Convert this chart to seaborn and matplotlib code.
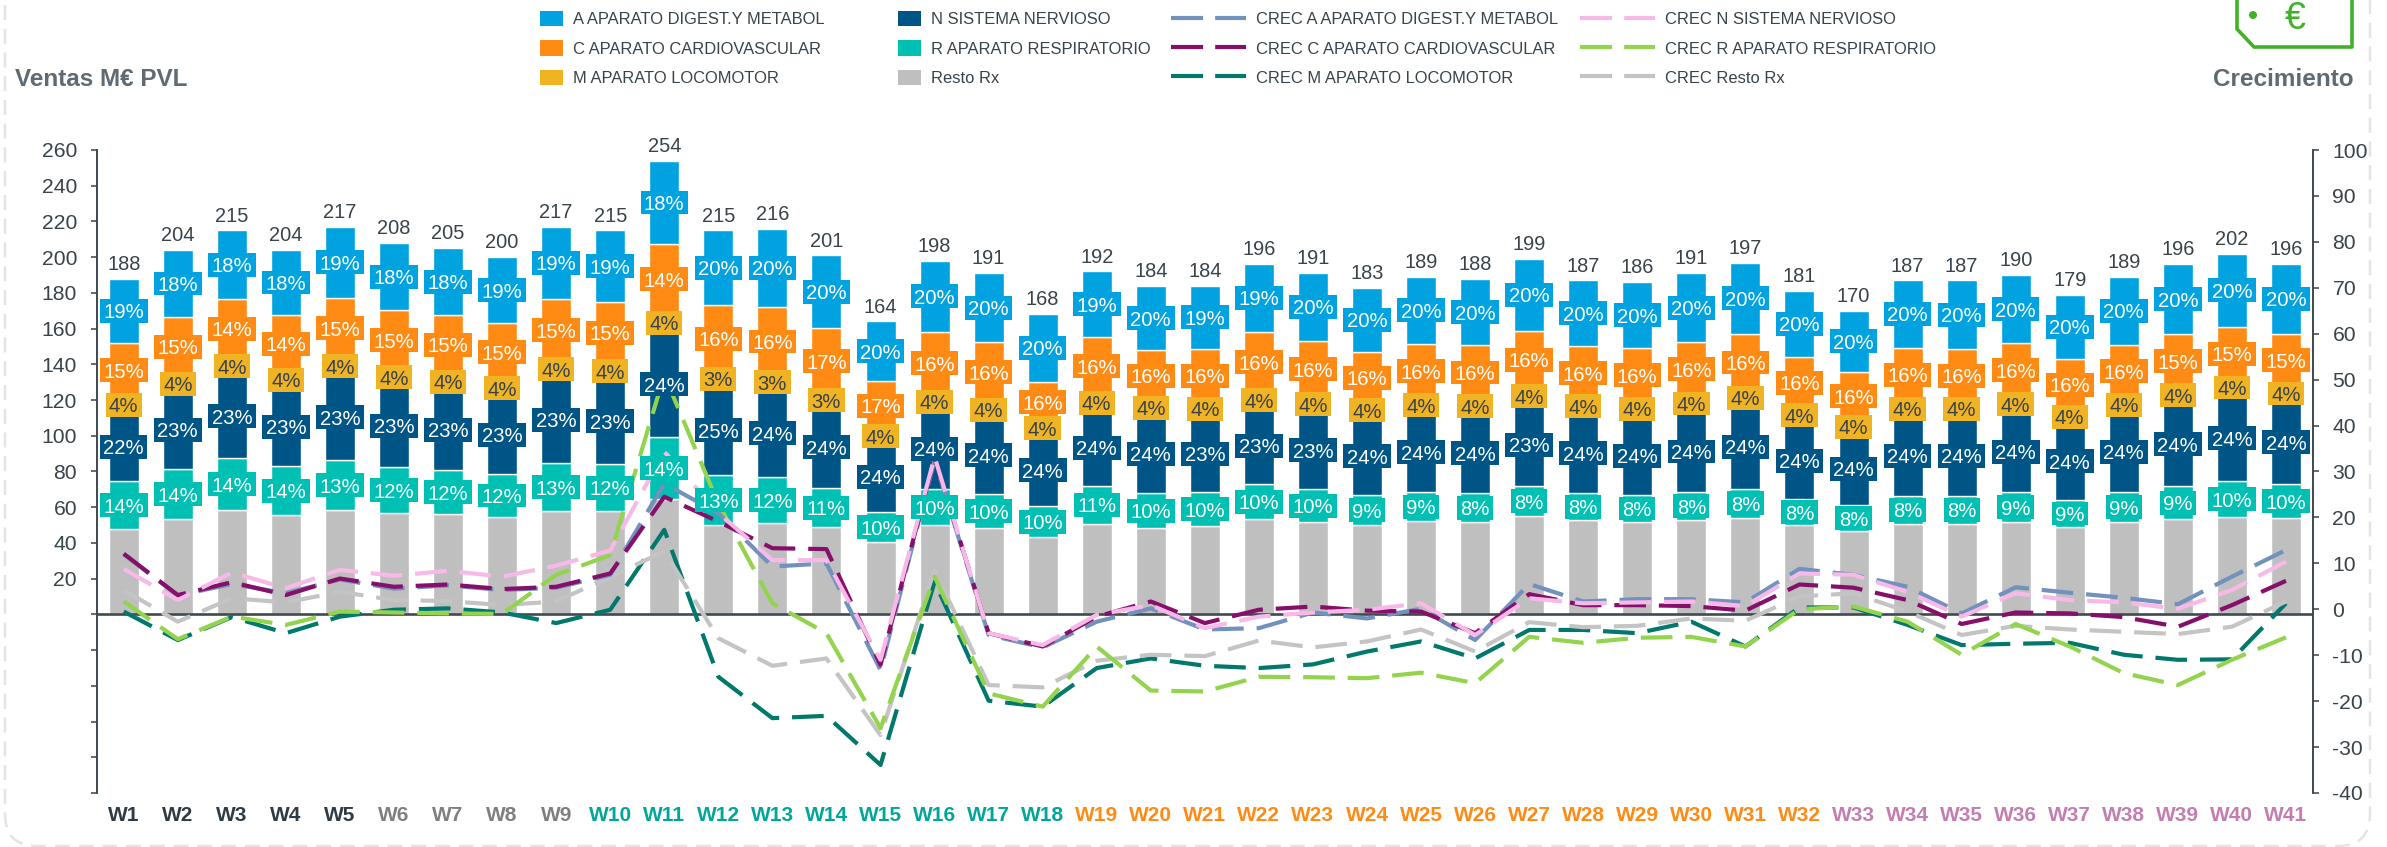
import numpy as np
import pandas as pd
import matplotlib
matplotlib.use("Agg")
import matplotlib.pyplot as plt
from matplotlib.lines import Line2D
from matplotlib.path import Path
from matplotlib.patches import Patch, Polygon, FancyBboxPatch, Circle
import seaborn as sns

weeks = [f"W{i}" for i in range(1, 42)]
totals = [188,204,215,204,217,208,205,200,217,215,254,215,216,201,164,198,191,168,192,184,184,196,191,183,189,188,199,187,186,191,197,181,170,187,187,190,179,189,196,202,196]

top_resto = [47.6,53.2,58.2,55.4,58.2,56.7,56.2,54.7,57.7,57.7,64.4,49.8,51.1,48.9,40.5,49.8,48.3,43.3,50.6,48.5,49.3,53.2,51.7,50,52.3,51.7,55,52.6,51.9,52.8,54,49.8,46.7,50.6,50.6,51.9,48.7,51.9,53.4,54.5,53.9]
top_r = [74.5,81.2,87.3,82.9,86.2,82.5,80.6,78.4,84.9,84,99.3,77.8,76.7,70.5,57.3,70,67.4,60.5,71.9,67.7,68.3,72.8,70,66.6,68.3,67.7,71.7,67.7,66.6,68.3,70.4,64.4,61,66.4,66.3,68.3,64.2,68.3,71.7,74.5,72.8]
top_n = [113.3,125.3,134.8,127,134.8,128.5,126.2,122.5,132.9,132,158.3,128.5,126.2,116.9,96.7,115.2,110.8,100.8,114.6,112,111.3,116,114,110.6,113.3,112.7,118,112.7,111.2,114.1,117.4,107.8,101.8,111.3,111.2,113.9,107.2,113.7,118.7,123,119.8]
top_m = [121.5,133,143,135.5,143,137,134.5,130.5,141.5,140.5,168,135.5,133.5,123,103,123,118.5,107.5,122.5,119.5,118.8,124,121.5,118,120.8,120.2,126,120.2,118.8,122,125.2,115,108.5,119,118.8,121.5,114.3,121.2,126.5,131,127.5]
top_c = [152.1,166.5,176.6,167.6,177.3,170.2,167.6,163,176.6,175,207.2,173,172,160.2,130.7,158.3,152.5,130.3,155.3,147.8,148.6,158.3,153.2,147,151.6,150.6,158.9,150,149,152.5,156.8,144.3,135.9,149.4,148.6,151.8,142.9,151,156.8,160.9,157.2]

pct_a = [19,18,18,18,19,18,18,19,19,19,18,20,20,20,20,20,20,20,19,20,19,19,20,20,20,20,20,20,20,20,20,20,20,20,20,20,20,20,20,20,20]
pct_c = [15,15,14,14,15,15,15,15,15,15,14,16,16,17,17,16,16,16,16,16,16,16,16,16,16,16,16,16,16,16,16,16,16,16,16,16,16,16,15,15,15]
pct_m = [4,4,4,4,4,4,4,4,4,4,4,3,3,3,4,4,4,4,4,4,4,4,4,4,4,4,4,4,4,4,4,4,4,4,4,4,4,4,4,4,4]
pct_n = [22,23,23,23,23,23,23,23,23,23,24,25,24,24,24,24,24,24,24,24,23,23,23,24,24,24,23,24,24,24,24,24,24,24,24,24,24,24,24,24,24]
pct_r = [14,14,14,14,13,12,12,12,13,12,14,13,12,11,10,10,10,10,11,10,10,10,10,9,9,8,8,8,8,8,8,8,8,8,8,9,9,9,9,10,10]

crec_a = [12,3,5.5,3.5,6.5,4.5,5.2,4.2,4.7,7.5,27.4,20.9,9.3,10,-13.2,32.5,-5.6,-8.3,-2.7,0.2,-4.4,-4.1,-0.7,-2,0.1,-6.7,5.5,1.7,2.2,2.2,1.5,8.8,7.5,4.9,-0.9,4.8,3.6,2.5,1.1,7.1,12.9]
crec_c = [12.1,3.1,5.9,3.1,6.7,4.9,5.4,4.4,4.9,7.8,24.5,19.1,13.3,13.1,-12.1,32.9,-5.2,-8.1,-1.6,1.7,-3,-0.1,0.6,-0.3,-0.5,-5.2,3.3,0.9,0.9,0.7,-0.3,5.4,4.7,2,-3.2,-0.7,-0.9,-1.7,-3.8,0.9,6.2]
crec_m = [-0.5,-6.7,-1.7,-5.2,-1.6,-0.1,0.2,-0.7,-3,-0.1,17.3,-14.7,-23.7,-23.2,-33.9,6,-19.9,-21.2,-12.8,-10.7,-12.3,-12.8,-12,-9.2,-7,-10.7,-4.5,-4.5,-5.2,-2.7,-8.1,0.4,0.4,-3.4,-7.8,-7.5,-7.3,-9.9,-11,-10.9,1.3]
crec_n = [8.8,2,8,4.6,8.6,7.3,8.4,7.1,9.5,12.8,34.3,21,10.7,10.7,-11,33.2,-5.2,-7.8,-1.2,0.9,-4.1,-1.6,-0.7,-0.1,1.3,-5.6,2.4,1.3,1.5,1.7,0.7,7.8,7.5,3.8,-1.6,3.5,2,1.5,0.1,4.2,10.4]
crec_r = [1.7,-6.5,-1.6,-3.4,-0.5,-0.7,-0.9,-1,7.5,11.8,51,23,1.3,-5.2,-25.9,7.1,-18.3,-21.2,-8.1,-17.7,-17.9,-14.7,-14.8,-15,-13.8,-16.1,-6,-7.3,-6.2,-6,-8.1,0,0.6,-2.7,-9.9,-3.2,-8.1,-13.9,-16.5,-11,-6.1]
crec_resto = [4.2,-2.7,2.4,1.5,3.8,2,1.8,0.9,1.7,7.1,12.6,-6.3,-12.3,-10.7,-27.4,8.6,-16.5,-17,-11.2,-9.9,-10.2,-6.8,-8.3,-7,-4.4,-9.2,-2.8,-3.9,-3.6,-2,-2.5,2.8,3.5,-0.5,-5.6,-3.6,-4.4,-4.9,-5.4,-3.8,1.7]

C_A, C_C, C_M, C_N, C_R, C_RESTO = "#00A3E0", "#FF8A14", "#F0B323", "#005587", "#00BFB3", "#BFBFBF"
L_A, L_C, L_M, L_N, L_R, L_RESTO = "#7291BC", "#870F6C", "#00786C", "#F8B9E8", "#93D34E", "#C4C4C4"
DARK = "#39434A"
GREEN = "#43B02A"
W = 2387; H = 847

sns.set_theme(style="white")
plt.rcParams["font.family"] = ["Liberation Sans", "DejaVu Sans"]
plt.rcParams["axes.unicode_minus"] = False

fig = plt.figure(figsize=(W / 100, H / 100), dpi=100, facecolor="white")
ax = fig.add_axes([96.7 / W, 1 - 793 / H, (2313 - 96.7) / W, (793 - 150) / H])
ax2 = ax.twinx()

pos = np.arange(len(weeks))
tot = np.array(totals, float)
tops = [np.array(v, float) for v in (top_resto, top_r, top_n, top_m, top_c)] + [tot]
colors = [C_RESTO, C_R, C_N, C_M, C_C, C_A]
bottom = np.zeros(len(weeks))
for top, col in zip(tops, colors):
    sns.barplot(x=pos, y=top - bottom, bottom=bottom, color=col, saturation=1, width=0.555,
                ax=ax, native_scale=True, zorder=2, errorbar=None)
    bottom = top

ax.set_xlim(-0.5, len(weeks) - 0.5)
ax.set_ylim(-100, 260)
ax.set_yticks(np.arange(-100, 261, 20))
ax.set_yticklabels([str(v) if v >= 20 else "" for v in np.arange(-100, 261, 20)])
ax.set_xticks(pos)
ax.set_xticklabels(weeks, fontweight="bold", fontsize=15)
ax.set_xlabel(""); ax.set_ylabel("")
for lab, i in zip(ax.get_xticklabels(), range(1, 42)):
    lab.set_color("#2F3B44" if i <= 5 else "#7F7F7F" if i <= 9 else "#00A69A" if i <= 18 else "#FF8A14" if i <= 32 else "#C47DB0")
ax.tick_params(axis="x", length=0, pad=9)
ax.tick_params(axis="y", length=4.6, width=1.1, color=DARK, labelsize=15.2, labelcolor=DARK, pad=9.5, left=True)
ax.axhline(0, color="#3F4A50", lw=1.9, zorder=2.6)

for side in ("top", "bottom"):
    ax.spines[side].set_visible(False); ax2.spines[side].set_visible(False)
for a in (ax, ax2):
    for side in ("left", "right"):
        a.spines[side].set_color(DARK); a.spines[side].set_linewidth(1.1)

series = [("CREC M APARATO LOCOMOTOR", crec_m, L_M), ("CREC Resto Rx", crec_resto, L_RESTO),
          ("CREC R APARATO RESPIRATORIO", crec_r, L_R), ("CREC A APARATO DIGEST.Y METABOL", crec_a, L_A),
          ("CREC C APARATO CARDIOVASCULAR", crec_c, L_C), ("CREC N SISTEMA NERVIOSO", crec_n, L_N)]
for name, vals, col in series:
    sns.lineplot(x=pos, y=vals, color=col, lw=3.0, ax=ax2, legend=False, errorbar=None, zorder=3)
    ln = ax2.get_lines()[-1]
    ln.set_dashes((7.6, 3.1)); ln.set_dash_capstyle("butt"); ln.set_solid_joinstyle("round")
ax2.set_ylim(-40, 100)
ax2.set_yticks(np.arange(-40, 101, 10))
ax2.tick_params(axis="y", length=4.6, width=1.1, color=DARK, labelsize=15.2, labelcolor=DARK, pad=9.4, right=True)
ax2.set_ylabel("")
ax2.patch.set_visible(False)


def label_box(x0, y0, w, h, m):
    """Box around a percent label: wider than tall, centred on the digits."""
    cx = x0 + w / 2
    cy = y0 + h / 2 + 0.1 * m
    hw = w / 2 + 0.17 * m
    hh = 0.59 * m
    return Path([(cx - hw, cy - hh), (cx + hw, cy - hh), (cx + hw, cy + hh), (cx - hw, cy + hh), (cx - hw, cy - hh)],
                closed=True)


# labels on a third overlay axes sharing the bar scale, so they sit above the lines
ax3 = fig.add_axes(ax.get_position(), sharex=ax, sharey=ax)
ax3.patch.set_visible(False); ax3.axis("off")
seg = [(top_resto, top_r, pct_r, C_R, "white"), (top_r, top_n, pct_n, C_N, "white"),
       (top_n, top_m, pct_m, C_M, DARK), (top_m, top_c, pct_c, C_C, "white"), (top_c, totals, pct_a, C_A, "white")]
for lo, hi, pct, col, tc in seg:
    for i, (a, b, p) in enumerate(zip(lo, hi, pct)):
        ax3.text(i, (a + b) / 2, f"{p}%", ha="center", va="center_baseline", fontsize=14.6, color=tc,
                 bbox=dict(boxstyle=label_box, fc=col, ec="none"))
for i, t in enumerate(totals):
    ax3.annotate(str(t), (i, t), xytext=(0, 3.5), textcoords="offset points", ha="center", va="bottom",
                 fontsize=14.4, color=DARK)

fig.text(15 / W, 1 - 80 / H, "Ventas M€ PVL", fontsize=17.5, fontweight="bold", color="#5F6A72", va="center")
fig.text(2354 / W, 1 - 80 / H, "Crecimiento", fontsize=17.5, fontweight="bold", color="#5F6A72", va="center", ha="right")

def bars(items):
    return [Patch(fc=c, ec="none", label=l) for l, c in items]
def lines(items):
    return [Line2D([0], [0], color=c, lw=3.0, dashes=(7.7, 2.9), label=l, dash_capstyle="butt") for l, c in items]
leg_cols = [
    (bars([("A APARATO DIGEST.Y METABOL", C_A), ("C APARATO CARDIOVASCULAR", C_C), ("M APARATO LOCOMOTOR", C_M)]), 540, 1.4),
    (bars([("N SISTEMA NERVIOSO", C_N), ("R APARATO RESPIRATORIO", C_R), ("Resto Rx", C_RESTO)]), 898, 1.4),
    (lines([("CREC A APARATO DIGEST.Y METABOL", L_A), ("CREC C APARATO CARDIOVASCULAR", L_C), ("CREC M APARATO LOCOMOTOR", L_M)]), 1171, 4.55),
    (lines([("CREC N SISTEMA NERVIOSO", L_N), ("CREC R APARATO RESPIRATORIO", L_R), ("CREC Resto Rx", L_RESTO)]), 1580, 4.55),
]
for handles, x, hl in leg_cols:
    fig.legend(handles=handles, loc="upper left", bbox_to_anchor=(x / W, 1 - 11 / H), frameon=False, fontsize=11.85,
               handlelength=hl, handleheight=1.05, handletextpad=0.6, labelspacing=0.8, borderpad=0, borderaxespad=0,
               labelcolor=DARK)

# decoration in pixel coordinates: page frame and price-tag icon
px = matplotlib.transforms.Affine2D().scale(1 / W, -1 / H).translate(0, 1) + fig.transFigure
frame = FancyBboxPatch((5, -40), 2365, 886, boxstyle="round,pad=0,rounding_size=32", transform=px,
                       fc="none", ec="#E4E4E4", lw=1.8, ls=(0, (6, 3.5)), clip_on=False)
fig.add_artist(frame)
tag = Polygon([(2237, -10), (2237, 29), (2254, 47), (2352, 47), (2352, -10)], closed=True, transform=px,
              fc="none", ec=GREEN, lw=2.6, joinstyle="round")
fig.add_artist(tag)
fig.add_artist(Circle((2253, 15), 4, transform=px, fc=GREEN, ec="none"))
fig.text(2295 / W, 1 - 19 / H, "€", fontsize=27, color=GREEN, ha="center", va="center")

fig.savefig("out.png", dpi=100, facecolor="white")
